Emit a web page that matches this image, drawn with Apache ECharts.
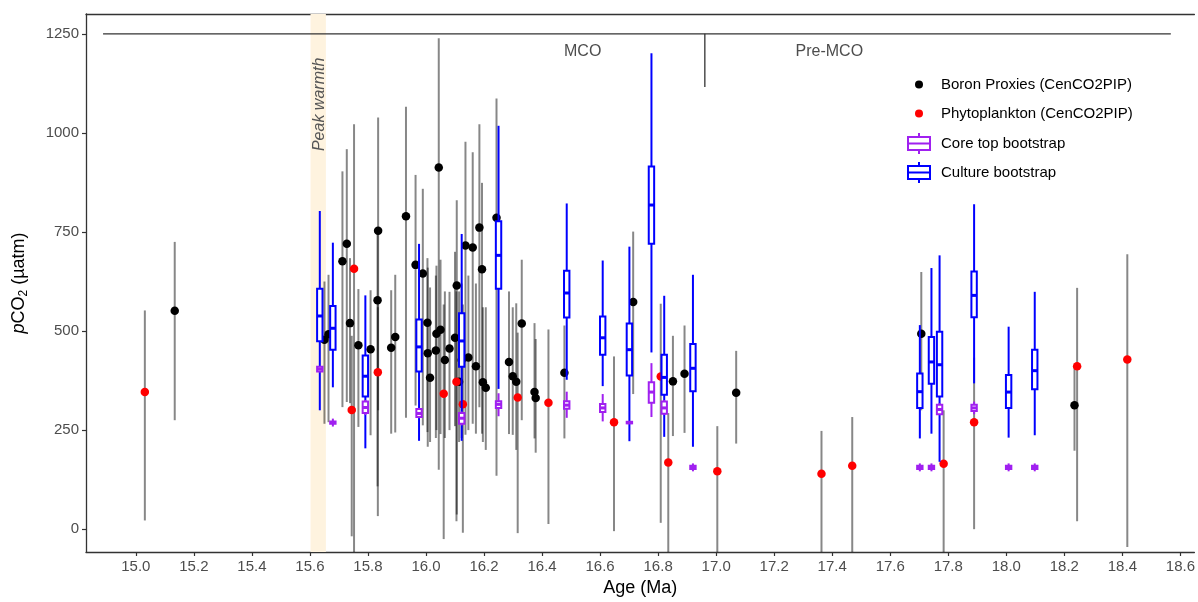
<!DOCTYPE html>
<html><head><meta charset="utf-8">
<script src="https://cdn.jsdelivr.net/npm/echarts@6/dist/echarts.min.js"></script>
<style>html,body{margin:0;padding:0;background:#fff}#c{width:1198px;height:602px}</style>
</head><body><div id="c"></div>
<script>
const FONT = "'Liberation Sans', Arial, Helvetica, sans-serif";
const xTicks = [15.0,15.2,15.4,15.6,15.8,16.0,16.2,16.4,16.6,16.8,17.0,17.2,17.4,17.6,17.8,18.0,18.2,18.4,18.6];
const yTicks = [0,250,500,750,1000,1250];

// Boron proxies: [age, pCO2, lower, upper]
const boron = [
  [15.134,551,275,725],[15.650,478,266,625],[15.664,492,270,642],[15.712,676,308,903],
  [15.727,720,321,959],[15.738,520,318,684],[15.767,464,258,606],[15.809,454,237,603],
  [15.835,753,300,1039],[15.833,578,108,751],[15.880,458,241,603],[15.894,485,244,642],
  [15.931,790,281,1066],[15.964,667,312,894],[15.989,645,262,859],[16.005,521,245,684],
  [16.006,444,208,660],[16.014,382,220,610],[16.036,493,250,665],[16.050,503,240,680],
  [16.034,451,230,640],[16.044,913,150,1239],[16.065,427,230,600],[16.081,456,250,599],
  [16.106,615,37,830],[16.100,483,260,700],[16.123,427,230,620],[16.114,372,220,600],
  [16.136,716,238,978],[16.146,433,250,640],[16.161,711,266,951],[16.172,411,241,620],
  [16.184,761,308,1022],[16.193,656,241,874],[16.196,371,220,560],[16.206,357,200,560],
  [16.243,786,135,1087],[16.286,422,240,600],[16.299,386,238,560],[16.311,372,200,570],
  [16.330,519,275,680],[16.374,346,229,520],[16.378,331,193,480],[16.477,395,229,514],
  [16.714,573,341,751],[16.851,373,235,488],[16.891,392,243,514],[17.069,344,216,450],
  [17.707,493,300,649],[18.235,313,198,413]
];
// Phytoplankton: [age, pCO2, lower, upper]
const phyto = [
  [15.031,346,22,552],[15.744,301,-18,488],[15.752,657,-60,1022],[15.834,396,33,560],
  [16.061,342,-25,567],[16.105,372,20,600],[16.127,315,-9,567],[16.316,332,-10,496],
  [16.422,319,13,504],[16.648,270,-5,436],[16.809,385,16,569],[16.835,168,-60,293],
  [17.004,146,-60,260],[17.363,140,-60,248],[17.469,160,-60,283],[17.784,165,-60,300],
  [17.889,270,0,433],[18.244,411,20,609],[18.417,428,-45,694]
];
// Culture bootstrap: [age, min, q1, median, q3, max]
const culture = [
  [15.634,300,474,538,607,803],[15.679,358,453,507,563,723],[15.791,204,335,386,438,590],
  [15.976,223,398,460,529,720],[16.123,223,410,475,545,745],[16.250,354,607,691,777,1018],
  [16.485,377,534,596,652,822],[16.609,361,440,483,537,678],[16.701,222,388,453,519,713],
  [16.777,446,720,818,915,1201],[16.821,233,339,383,440,589],[16.920,208,348,406,467,642],
  [17.702,229,306,347,393,515],[17.742,241,367,422,485,659],[17.770,170,335,415,498,691],
  [17.889,368,535,590,650,820],[18.008,231,306,346,389,511],[18.098,237,353,400,453,599]
];
// Core top bootstrap: [age, min, q1, median, q3, max]
const coreTop = [
  [15.634,396,398,404,410,412],[15.679,259,266,269,272,279],[15.791,288,293,307,322,326],
  [15.976,280,283,292,303,306],[16.123,262,266,280,293,297],[16.250,285,306,315,323,343],
  [16.485,281,304,313,323,347],[16.609,272,296,306,316,341],[16.701,266,267,269,271,272],
  [16.777,283,319,346,371,419],[16.821,288,291,306,322,326],[16.920,146,152,156,160,166],
  [17.702,146,152,156,160,166],[17.742,146,152,156,160,166],[17.770,288,290,302,314,318],
  [17.889,290,298,306,314,322],[18.008,146,152,156,160,166],[18.098,146,152,156,160,166]
];
const periodBar = [[14.887,1250],[18.567,1250]];
const periodDivider = [[16.961,1250],[16.961,1116]];
const periodLabels = [[16.54,1206],[17.39,1206]];
const periodNames = ['MCO','Pre-MCO'];
const peakWarmth = [15.602,15.655];
const peakLabel = [[15.634,1072]];
const peakText = 'Peak warmth';

const X_MIN = 14.8282, X_MAX = 18.6482;

const chart = echarts.init(document.getElementById('c'));

function errRender(params, api){
  const x = api.value(0);
  const a = api.coord([x, api.value(1)]), b = api.coord([x, api.value(2)]);
  return {type:'line', shape:{x1:a[0],y1:a[1],x2:b[0],y2:b[1]},
          style:{stroke:'rgba(0,0,0,0.47)', lineWidth:2}};
}
function boxRender(color){
  return function(params, api){
    const x = api.value(0);
    const lo = api.coord([x, api.value(1)]), q1 = api.coord([x, api.value(2)]),
          md = api.coord([x, api.value(3)]), q3 = api.coord([x, api.value(4)]),
          hi = api.coord([x, api.value(5)]);
    const cx = lo[0], hw = 2.7;
    const ls = {stroke:color, lineWidth:2};
    return {type:'group', children:[
      {type:'line', shape:{x1:cx,y1:hi[1],x2:cx,y2:q3[1]}, style:ls},
      {type:'line', shape:{x1:cx,y1:q1[1],x2:cx,y2:lo[1]}, style:ls},
      {type:'rect', shape:{x:cx-hw, y:q3[1], width:2*hw, height:Math.max(q1[1]-q3[1],0.5)},
       style:{fill:'#fff', stroke:color, lineWidth:2}},
      {type:'line', shape:{x1:cx-hw,y1:md[1],x2:cx+hw,y2:md[1]}, style:{stroke:color, lineWidth:3}}
    ]};
  };
}
const boxIcon = 'path://M11,0 L11,4 M0,4 L22,4 L22,17 L0,17 Z M0,10.5 L22,10.5 M11,17 L11,21';

const option = {
  animation:false,
  textStyle:{fontFamily:FONT},
  grid:{left:86, right:0, top:14, bottom:46, show:false, containLabel:false},
  xAxis:[{type:'value', min:X_MIN, max:X_MAX, position:'bottom',
    axisLine:{show:true, onZero:false, lineStyle:{color:'#333', width:1.3}},
    axisTick:{show:true, customValues:xTicks, length:4, lineStyle:{color:'#333', width:1.2}},
    axisLabel:{customValues:xTicks, formatter:v=>Number(v).toFixed(1), color:'#4d4d4d', fontSize:15, margin:7, fontFamily:FONT},
    splitLine:{show:false},
    name:'Age (Ma)', nameLocation:'middle', nameGap:27,
    nameTextStyle:{fontSize:18, color:'#000', fontFamily:FONT}},
   {type:'value', min:X_MIN, max:X_MAX, position:'top',
    axisLine:{show:true, onZero:false, lineStyle:{color:'#333', width:1.3}},
    axisTick:{show:false}, axisLabel:{show:false}, splitLine:{show:false}}],
  yAxis:{type:'value', min:-57.6, max:1300.1,
    axisLine:{show:true, onZero:false, lineStyle:{color:'#333', width:1.3}},
    axisTick:{show:true, customValues:yTicks, length:4, lineStyle:{color:'#333', width:1.2}},
    axisLabel:{customValues:yTicks, formatter:v=>String(Math.round(v)), color:'#4d4d4d', fontSize:15, margin:7, fontFamily:FONT},
    splitLine:{show:false},
    name:'{i|p}{n|CO}{s|2}{n| (µatm)}', nameLocation:'middle', nameGap:56, nameRotate:90,
    nameTextStyle:{color:'#000', fontFamily:FONT, rich:{
      i:{fontStyle:'italic', fontSize:18, color:'#000', fontFamily:FONT},
      n:{fontSize:18, color:'#000', fontFamily:FONT},
      s:{fontSize:12, color:'#000', fontFamily:FONT, padding:[10,0,0,0]}}}},
  legend:[
    {data:[{name:'Boron Proxies (CenCO2PIP)', icon:'circle'},{name:'Phytoplankton (CenCO2PIP)', icon:'circle'}],
     orient:'vertical', left:910, top:72, itemWidth:34, itemHeight:8, itemGap:14, selectedMode:false,
     textStyle:{fontSize:15, color:'#000', fontFamily:FONT}},
    {data:[{name:'Core top bootstrap', icon:boxIcon, itemStyle:{color:'#fff', borderColor:'#A020F0', borderWidth:2}},
           {name:'Culture bootstrap', icon:boxIcon, itemStyle:{color:'#fff', borderColor:'#0000FF', borderWidth:2}}],
     orient:'vertical', left:902, top:127, itemWidth:34, itemHeight:21, itemGap:6, selectedMode:false,
     textStyle:{fontSize:15, color:'#000', fontFamily:FONT}}
  ],
  series:[
    {name:'band', type:'line', data:[], silent:true, z:0,
     markArea:{silent:true, itemStyle:{color:'#FEF3DF'}, data:[[{xAxis:peakWarmth[0]},{xAxis:peakWarmth[1]}]]}},
    {name:'boronErr', type:'custom', renderItem:errRender, clip:true, z:2, silent:true,
     data:boron.map(d=>[d[0],d[2],d[3]]), encode:{x:0,y:[1,2]}},
    {name:'phytoErr', type:'custom', renderItem:errRender, clip:true, z:2, silent:true,
     data:phyto.map(d=>[d[0],d[2],d[3]]), encode:{x:0,y:[1,2]}},
    {name:'Boron Proxies (CenCO2PIP)', type:'scatter', z:3, symbolSize:8.5, itemStyle:{color:'#000', opacity:1},
     data:boron.map(d=>[d[0],d[1]])},
    {name:'Phytoplankton (CenCO2PIP)', type:'scatter', z:3, symbolSize:8.5, itemStyle:{color:'#FF0000', opacity:1},
     data:phyto.map(d=>[d[0],d[1]])},
    {name:'Culture bootstrap', type:'custom', z:4, clip:true, itemStyle:{color:'#0000FF'},
     renderItem:boxRender('#0000FF'), data:culture, encode:{x:0,y:[1,2,3,4,5]}},
    {name:'Core top bootstrap', type:'custom', z:5, clip:true, itemStyle:{color:'#A020F0'},
     renderItem:boxRender('#A020F0'), data:coreTop, encode:{x:0,y:[1,2,3,4,5]}},
    {name:'periodBar', type:'line', data:periodBar, symbol:'none', silent:true, z:6,
     lineStyle:{color:'#333', width:1.3}},
    {name:'periodDivider', type:'line', data:periodDivider, symbol:'none', silent:true, z:6,
     lineStyle:{color:'#333', width:1.3}},
    {name:'periodLabels', type:'custom', z:6, silent:true, data:periodLabels, encode:{x:0,y:1},
     renderItem:function(params, api){
       const p = api.coord([api.value(0), api.value(1)]);
       return {type:'text', x:p[0], y:p[1], style:{text:periodNames[params.dataIndex], fill:'#4d4d4d',
         font:'16px '+FONT, textAlign:'center', textVerticalAlign:'middle'}};
     }},
    {name:'peakLabel', type:'custom', z:6, silent:true, data:peakLabel, encode:{x:0,y:1},
     renderItem:function(params, api){
       const p = api.coord([api.value(0), api.value(1)]);
       return {type:'text', x:p[0], y:p[1], rotation:Math.PI/2, style:{text:peakText, fill:'#555',
         font:'italic 16px '+FONT, textAlign:'center', textVerticalAlign:'middle'}};
     }}
  ]
};
chart.setOption(option);
</script>
</body></html>
